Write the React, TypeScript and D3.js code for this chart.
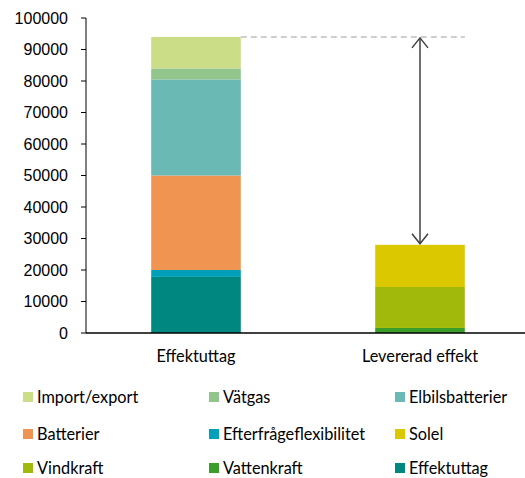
import React from "react";
import * as d3 from "d3";

const categories = ["Effektuttag", "Levererad effekt"];

const seriesNames = [
  "Effektuttag",
  "Efterfrågeflexibilitet",
  "Batterier",
  "Elbilsbatterier",
  "Vätgas",
  "Import/export",
  "Vattenkraft",
  "Vindkraft",
  "Solel",
];

// values per series: [Effektuttag bar, Levererad effekt bar]
const effektuttag = [17800, 0];
const efterfragan = [2200, 0];
const batterier = [30000, 0];
const elbilsbatterier = [30500, 0];
const vatgas = [3500, 0];
const importExport = [10000, 0];
const vattenkraft = [0, 1600];
const vindkraft = [0, 13000];
const solel = [0, 13400];

const seriesValues = [
  effektuttag,
  efterfragan,
  batterier,
  elbilsbatterier,
  vatgas,
  importExport,
  vattenkraft,
  vindkraft,
  solel,
];

const colors: Record<string, string> = {
  "Import/export": "#CCDD88",
  "Vätgas": "#92C58C",
  "Elbilsbatterier": "#6AB9B4",
  "Batterier": "#F09452",
  "Efterfrågeflexibilitet": "#00A0B8",
  "Solel": "#DCC800",
  "Vindkraft": "#A0B90A",
  "Vattenkraft": "#3C9E2A",
  "Effektuttag": "#00877F",
};

const legendOrder = [
  "Import/export",
  "Vätgas",
  "Elbilsbatterier",
  "Batterier",
  "Efterfrågeflexibilitet",
  "Solel",
  "Vindkraft",
  "Vattenkraft",
  "Effektuttag",
];

const yTicks = [0, 10000, 20000, 30000, 40000, 50000, 60000, 70000, 80000, 90000, 100000];

export default function App() {
  const width = 525;
  const height = 478;
  const axisX = 86;
  const axisRight = 525;

  const y = d3.scaleLinear().domain([0, 100000]).range([333, 18]);
  const x = d3
    .scaleBand<string>()
    .domain(categories)
    .range([84, 532])
    .paddingInner(0.6)
    .paddingOuter(0.3);

  const rows = categories.map((c, i) => {
    const r: Record<string, number | string> = { category: c };
    seriesNames.forEach((s, k) => (r[s] = seriesValues[k][i]));
    return r;
  });
  const stacked = d3.stack<Record<string, number | string>>().keys(seriesNames)(rows as any);

  const totals = categories.map((_, i) => d3.sum(seriesValues, (s) => s[i]));
  const topY = y(totals[0]);
  const deliveredY = y(totals[1]);
  const arrowX = (x(categories[1]) as number) + x.bandwidth() / 2;

  const legendCols = [23, 209, 395];
  const legendRows = [397, 434, 468];

  return (
    <svg width={width} height={height} style={{ display: "block", position: "absolute", left: 0, top: 0 }}>
      {stacked.map((layer) => (
        <g key={layer.key} fill={colors[layer.key]}>
          {layer.map((d, i) =>
            d[1] - d[0] > 0 ? (
              <rect
                key={i}
                x={x(categories[i])}
                width={x.bandwidth()}
                y={y(d[1])}
                height={y(d[0]) - y(d[1])}
              />
            ) : null
          )}
        </g>
      ))}

      {/* reference line from the top of the demand bar */}
      <line
        x1={(x(categories[0]) as number) + x.bandwidth()}
        x2={(x(categories[1]) as number) + x.bandwidth()}
        y1={topY}
        y2={topY}
        stroke="#BFBFBF"
        strokeWidth={1.5}
        strokeDasharray="6,4"
      />

      {/* double arrow showing the gap */}
      <g stroke="#404040" fill="none" strokeWidth={1.5}>
        <line x1={arrowX} x2={arrowX} y1={topY + 1} y2={deliveredY - 1} />
        <polyline points={`${arrowX - 8},${topY + 11} ${arrowX},${topY + 1} ${arrowX + 8},${topY + 11}`} />
        <polyline
          points={`${arrowX - 8},${deliveredY - 11} ${arrowX},${deliveredY - 1} ${arrowX + 8},${deliveredY - 11}`}
        />
      </g>

      {/* y axis */}
      <g fontFamily="Liberation Sans, Arial, sans-serif" fontSize={16} fill="#000">
        <line x1={axisX} x2={axisX} y1={y(100000)} y2={y(0)} stroke="#000" strokeWidth={1} />
        {yTicks.map((t) => (
          <g key={t}>
            <line x1={axisX - 5} x2={axisX} y1={y(t)} y2={y(t)} stroke="#000" />
            <text x={axisX - 18} y={y(t)} dy="0.35em" textAnchor="end">
              {t}
            </text>
          </g>
        ))}
      </g>

      {/* x axis */}
      <line x1={axisX} x2={axisRight} y1={y(0)} y2={y(0)} stroke="#000" strokeWidth={1.5} />
      <g fontFamily="Lato, sans-serif" fontSize={16.3} fill="#000">
        {categories.map((c) => (
          <text key={c} x={(x(c) as number) + x.bandwidth() / 2} y={356} dy="0.35em" textAnchor="middle">
            {c}
          </text>
        ))}
      </g>

      {/* legend */}
      <g fontFamily="Lato, sans-serif" fontSize={16.3} fill="#000">
        {legendOrder.map((name, i) => {
          const cx = legendCols[i % 3];
          const cy = legendRows[Math.floor(i / 3)];
          return (
            <g key={name}>
              <rect x={cx} y={cy - 5} width={10} height={10} fill={colors[name]} />
              <text x={cx + 14} y={cy} dy="0.35em">
                {name}
              </text>
            </g>
          );
        })}
      </g>
    </svg>
  );
}
